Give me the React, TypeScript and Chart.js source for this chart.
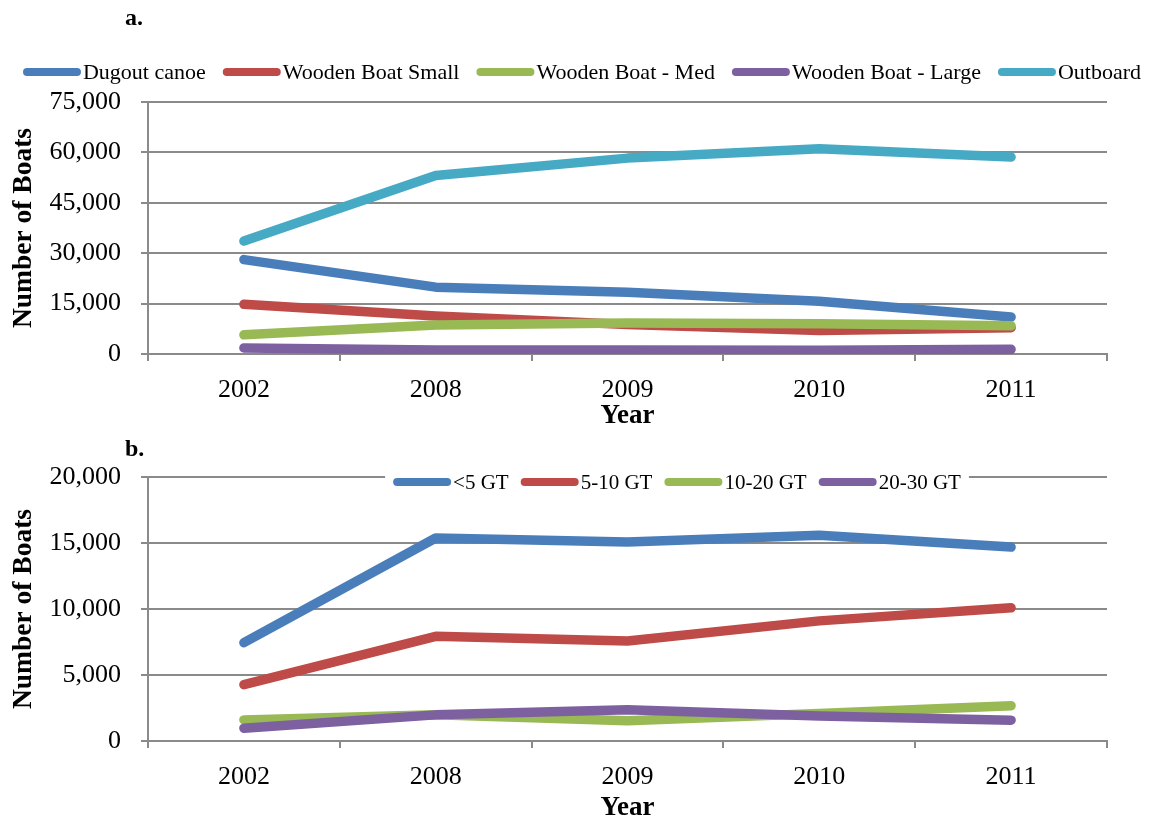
import React, { useEffect, useRef } from "react";
import { Chart, registerables } from "chart.js";

Chart.register(...registerables);

// ---------- Data ----------
const years = ["2002", "2008", "2009", "2010", "2011"];

// Panel a. – boat types
const dugoutCanoe = [28100, 19900, 18400, 15700, 11000];
const woodenBoatSmall = [14800, 11300, 8800, 7000, 7800];
const woodenBoatMed = [5700, 8650, 9200, 9000, 8400];
const woodenBoatLarge = [1800, 1200, 1200, 1100, 1400];
const outboard = [33600, 53100, 58300, 61100, 58600];

// Panel b. – gross tonnage classes
const gtUnder5 = [7450, 15380, 15070, 15580, 14690];
const gt5to10 = [4270, 7930, 7580, 9100, 10090];
const gt10to20 = [1600, 1980, 1530, 2080, 2670];
const gt20to30 = [970, 1980, 2360, 1900, 1580];

const panelATicks = { min: 0, max: 75000, step: 15000 };
const panelBTicks = { min: 0, max: 20000, step: 5000 };

// ---------- Styles ----------
const BLUE = "#4A7EBB";
const RED = "#BE4B48";
const GREEN = "#98B954";
const PURPLE = "#7D60A0";
const CYAN = "#46AAC5";
const GRID = "#8a8a8a";
const FONT = "'Liberation Serif', 'Times New Roman', serif";

Chart.defaults.font.family = FONT;
Chart.defaults.color = "#000";

const lineLegendPlugin = {
  id: "lineLegend",
  afterDraw(chart: any, _args: any, opts: any) {
    const ctx = chart.ctx as CanvasRenderingContext2D;
    const items = chart.data.datasets;
    ctx.save();
    ctx.font = opts.font;
    const widths = items.map((d: any) => ctx.measureText(d.label).width);
    const total =
      widths.reduce((a: number, w: number) => a + opts.boxWidth + opts.textGap + w, 0) +
      opts.itemGap * (items.length - 1);
    let x = opts.centerX - total / 2;
    if (opts.background) {
      ctx.fillStyle = opts.background;
      ctx.fillRect(x - opts.bgPad, opts.y - opts.bgH / 2, total + 2 * opts.bgPad, opts.bgH);
    }
    items.forEach((d: any, i: number) => {
      ctx.strokeStyle = d.borderColor;
      ctx.lineWidth = opts.boxHeight;
      ctx.lineCap = "round";
      ctx.beginPath();
      ctx.moveTo(x + opts.boxHeight / 2, opts.y);
      ctx.lineTo(x + opts.boxWidth - opts.boxHeight / 2, opts.y);
      ctx.stroke();
      x += opts.boxWidth + opts.textGap;
      ctx.fillStyle = "#000";
      ctx.textBaseline = "middle";
      ctx.textAlign = "left";
      ctx.fillText(d.label, x, opts.y + 1);
      x += widths[i] + opts.itemGap;
    });
    ctx.font = opts.labelFont;
    ctx.textBaseline = "middle";
    ctx.fillStyle = "#000";
    ctx.fillText(opts.panelLabel, opts.labelX, opts.labelY);
    ctx.restore();
  },
};

function ds(label: string, data: number[], color: string, i: number) {
  return {
    label,
    data,
    borderColor: color,
    backgroundColor: color,
    borderWidth: 9.5,
    borderCapStyle: "round" as const,
    borderJoinStyle: "round" as const,
    pointRadius: 0,
    tension: 0,
    fill: false,
    order: -i,
  };
}

function makeOptions(
  ticks: { min: number; max: number; step: number },
  padTop: number,
  xHeight: number,
  legend: any
) {
  return {
    responsive: false,
    animation: false as const,
    layout: { padding: { top: padTop, right: 43, left: 0, bottom: 0 } },
    plugins: {
      legend: { display: false },
      tooltip: { enabled: false },
      lineLegend: legend,
    },
    scales: {
      x: {
        type: "category" as const,
        offset: true,
        afterFit: (s: any) => {
          s.height = xHeight;
        },
        grid: {
          display: true,
          offset: true,
          drawOnChartArea: false,
          drawTicks: true,
          tickLength: 7,
          color: GRID,
          lineWidth: 2,
        },
        border: { display: true, color: GRID, width: 2 },
        ticks: { font: { size: 26 }, color: "#000", padding: 14, maxRotation: 0 },
        title: {
          display: true,
          text: "Year",
          font: { size: 27, weight: "bold" as const },
          color: "#000",
          padding: { top: 0, bottom: 0 },
        },
      },
      y: {
        min: ticks.min,
        max: ticks.max,
        afterFit: (s: any) => {
          s.width = 148;
        },
        grid: { color: GRID, lineWidth: 2, tickLength: 7, drawTicks: true },
        border: { display: true, color: GRID, width: 2 },
        ticks: {
          stepSize: ticks.step,
          font: { size: 26 },
          color: "#000",
          padding: 20,
          callback: (v: any) => Number(v).toLocaleString("en-US"),
        },
        title: {
          display: true,
          text: "Number of Boats",
          font: { size: 27.5, weight: "bold" as const },
          color: "#000",
          padding: { top: 7, bottom: 0 },
        },
      },
    },
  };
}

function PanelA() {
  const ref = useRef<HTMLCanvasElement>(null);
  useEffect(() => {
    const chart = new Chart(ref.current!, {
      type: "line",
      data: {
        labels: years,
        datasets: [
          ds("Dugout canoe", dugoutCanoe, BLUE, 0),
          ds("Wooden Boat Small", woodenBoatSmall, RED, 1),
          ds("Wooden Boat - Med", woodenBoatMed, GREEN, 2),
          ds("Wooden Boat - Large", woodenBoatLarge, PURPLE, 3),
          ds("Outboard", outboard, CYAN, 4),
        ],
      },
      options: makeOptions(panelATicks, 102, 78, {
        font: `22px ${FONT}`,
        centerX: 582,
        y: 72,
        boxWidth: 58,
        boxHeight: 8,
        textGap: 2,
        itemGap: 17,
        background: null,
        panelLabel: "a.",
        labelFont: `bold 24px ${FONT}`,
        labelX: 125,
        labelY: 19,
      }) as any,
      plugins: [lineLegendPlugin],
    });
    return () => chart.destroy();
  }, []);
  return (
    <canvas
      ref={ref}
      width={1150}
      height={432}
      style={{ position: "absolute", left: 0, top: 0, width: 1150, height: 432 }}
    />
  );
}

function PanelB() {
  const ref = useRef<HTMLCanvasElement>(null);
  useEffect(() => {
    const chart = new Chart(ref.current!, {
      type: "line",
      data: {
        labels: years,
        datasets: [
          ds("<5 GT", gtUnder5, BLUE, 0),
          ds("5-10 GT", gt5to10, RED, 1),
          ds("10-20 GT", gt10to20, GREEN, 2),
          ds("20-30 GT", gt20to30, PURPLE, 3),
        ],
      },
      options: makeOptions(panelBTicks, 47, 83, {
        font: `21px ${FONT}`,
        centerX: 677,
        y: 52,
        boxWidth: 58,
        boxHeight: 8,
        textGap: 2,
        itemGap: 12,
        background: "#fff",
        bgPad: 8,
        bgH: 24,
        panelLabel: "b.",
        labelFont: `bold 24px ${FONT}`,
        labelX: 125,
        labelY: 20,
      }) as any,
      plugins: [lineLegendPlugin],
    });
    return () => chart.destroy();
  }, []);
  return (
    <canvas
      ref={ref}
      width={1150}
      height={394}
      style={{ position: "absolute", left: 0, top: 430, width: 1150, height: 394 }}
    />
  );
}

export default function App() {
  return (
    <div
      style={{
        position: "absolute",
        left: 0,
        top: 0,
        width: 1150,
        height: 820,
        background: "#fff",
        overflow: "hidden",
      }}
    >
      <PanelA />
      <PanelB />
    </div>
  );
}
